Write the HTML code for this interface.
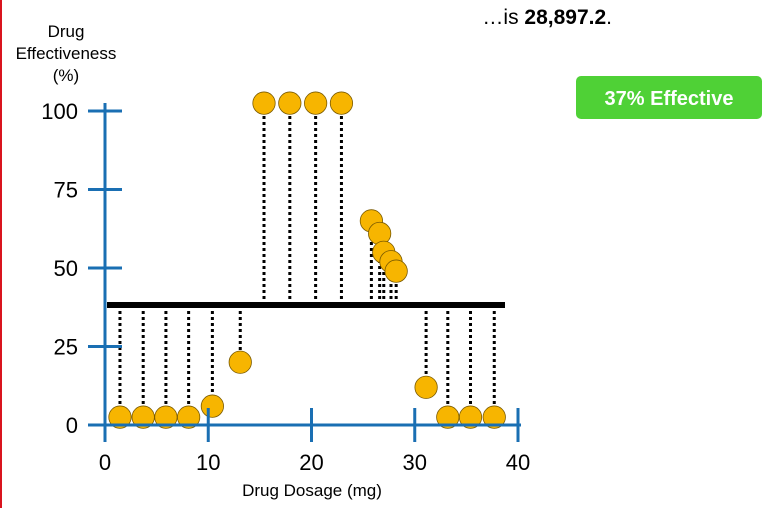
<!DOCTYPE html>
<html><head><meta charset="utf-8"><style>
body{margin:0;background:#fff;width:776px;height:508px;overflow:hidden;font-family:"Liberation Sans",Arial,sans-serif}
</style></head><body>
<svg width="776" height="508" xmlns="http://www.w3.org/2000/svg" font-family="Liberation Sans, Arial, sans-serif">
<line x1="1" y1="0" x2="1" y2="508" stroke="#d9141e" stroke-width="2"/>
<g font-size="17" text-anchor="middle" fill="#000">
<text x="66" y="37">Drug</text><text x="66" y="59">Effectiveness</text><text x="66" y="81">(%)</text></g>
<text x="312" y="496" font-size="17" text-anchor="middle">Drug Dosage (mg)</text>
<text x="612" y="24" font-size="21" text-anchor="end">…is <tspan font-weight="bold">28,897.2</tspan>.</text>
<rect x="576" y="76" width="186" height="43" rx="5" fill="#4fd136"/>
<text x="669" y="105" font-size="20" font-weight="bold" fill="#fff" text-anchor="middle">37% Effective</text>
<g id="plot"></g>
</svg>
<script>
const dosages=[1.45,3.7,5.9,8.1,10.4,13.1,15.4,17.9,20.4,22.9,25.8,26.6,27.0,27.7,28.2,31.1,33.2,35.4,37.7];
const effects=[2.5,2.5,2.5,2.5,6,20,102.5,102.5,102.5,102.5,65,61,55,52,49,12,2.5,2.5,2.5];
const meanEffect=38.2;
const xTicks=[0,10,20,30,40];
const yTicks=[0,25,50,75,100];
const xs=v=>105+v*10.325;
const ys=v=>425-v*3.14;
const NS='http://www.w3.org/2000/svg';
const plot=document.getElementById('plot');
function mk(tag,attrs,parent){const e=document.createElementNS(NS,tag);for(const k in attrs)e.setAttribute(k,attrs[k]);(parent||plot).appendChild(e);return e;}
dosages.forEach((d,i)=>{
 const l=mk('line',{x1:xs(d),x2:xs(d),y1:ys(meanEffect),y2:ys(effects[i]),stroke:'#000','stroke-width':3,'stroke-dasharray':'3 3'});
 
 
});
dosages.forEach((d,i)=>{
 const c=mk('circle',{cx:xs(d),cy:ys(effects[i]),r:11.2,fill:'#f7b500',stroke:'#7a5a00','stroke-width':0.8});
 
 
});
const m=mk('line',{x1:107,x2:505,y1:ys(meanEffect),y2:ys(meanEffect),stroke:'#000','stroke-width':6});


const blue='#1a6fb3';
const xa=mk('line',{x1:88,x2:521,y1:ys(0),y2:ys(0),stroke:blue,'stroke-width':3});


const ya=mk('line',{x1:xs(0),x2:xs(0),y1:ys(100)-8,y2:442,stroke:blue,'stroke-width':3});


xTicks.forEach(t=>{
 const l=mk('line',{x1:xs(t),x2:xs(t),y1:408,y2:442,stroke:blue,'stroke-width':3});
 
 
 const tx=mk('text',{x:xs(t),y:470,'font-size':22,'text-anchor':'middle'});
 tx.textContent=t;
 
 
});
yTicks.forEach(t=>{
 if(t>0){const l=mk('line',{x1:88,x2:122,y1:ys(t),y2:ys(t),stroke:blue,'stroke-width':3});
 
 }
 const tx=mk('text',{x:78,y:ys(t)+8,'font-size':22,'text-anchor':'end'});
 tx.textContent=t;
 
 
});
</script>
</body></html>
